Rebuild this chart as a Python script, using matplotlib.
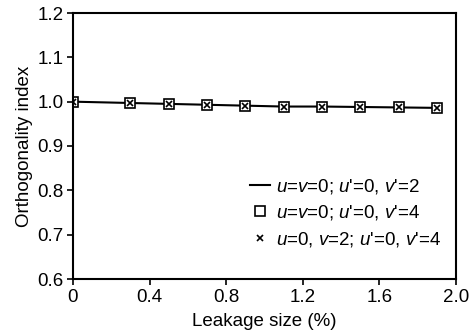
import matplotlib
matplotlib.use("Agg")
import matplotlib.pyplot as plt

plt.rcParams['font.family'] = ['Liberation Sans', 'DejaVu Sans']
plt.rcParams['mathtext.fontset'] = 'custom'
plt.rcParams['mathtext.rm'] = 'Liberation Sans'
plt.rcParams['mathtext.it'] = 'Liberation Sans:italic'

# data
leak = [0, 0.3, 0.5, 0.7, 0.9, 1.1, 1.3, 1.5, 1.7, 1.9]
idx_v2 = [1.000, 0.997, 0.995, 0.993, 0.991, 0.989, 0.989, 0.988, 0.987, 0.986]
idx_v4 = [1.000, 0.997, 0.995, 0.993, 0.991, 0.989, 0.989, 0.988, 0.987, 0.986]
idx_u0v2 = [1.000, 0.997, 0.995, 0.993, 0.991, 0.989, 0.989, 0.988, 0.987, 0.986]
labels = [r"$u$=$v$=0; $u$'=0, $v$'=2",
          r"$u$=$v$=0; $u$'=0, $v$'=4",
          r"$u$=0, $v$=2; $u$'=0, $v$'=4"]
xticks = [0, 0.4, 0.8, 1.2, 1.6, 2.0]
xticklabels = ["0", "0.4", "0.8", "1.2", "1.6", "2.0"]
yticks = [0.6, 0.7, 0.8, 0.9, 1.0, 1.1, 1.2]

fs = 13.5
fig = plt.figure(figsize=(4.76, 3.33), dpi=100)
ax = fig.add_axes([73 / 476, 1 - 279 / 333, (456 - 73) / 476, (279 - 13) / 333])

ax.plot(leak, idx_v2, color='black', lw=1.5, label=labels[0])
ax.plot(leak, idx_v4, ls='none', marker='s', ms=6.5, mfc='white', mec='black', mew=1.2, label=labels[1])
ax.plot(leak, idx_u0v2, ls='none', marker='x', ms=4.5, color='black', mew=1.2, label=labels[2])

ax.set_xlim(0, 2.0)
ax.set_ylim(0.6, 1.2)
ax.set_xticks(xticks)
ax.set_xticklabels(xticklabels)
ax.set_yticks(yticks)
ax.set_yticklabels(["%.1f" % t for t in yticks])
ax.tick_params(direction='out', length=4.5, width=1.2, labelsize=fs, pad=2.5)

for s in ax.spines.values():
    s.set_linewidth(1.5)

ax.set_xlabel("Leakage size (%)", fontsize=fs, labelpad=5)
ax.set_ylabel("Orthogonality index", fontsize=fs, labelpad=3)

ax.legend(loc='lower right', frameon=False, fontsize=fs, handlelength=1.1,
          handletextpad=0.3, labelspacing=0.4, borderpad=0.4,
          bbox_to_anchor=(1.005, 0.05))

fig.savefig("out.png", dpi=100)
